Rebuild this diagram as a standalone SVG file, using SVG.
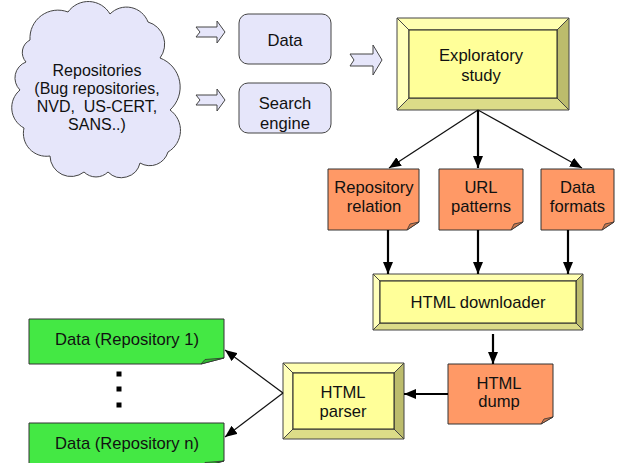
<svg xmlns="http://www.w3.org/2000/svg" width="618" height="463" viewBox="0 0 618 463">
<style>
text{font-family:"Liberation Sans",Arial,sans-serif;font-size:16.6px;fill:#111;text-anchor:middle}
.cl{font-size:16px}
.lav{fill:#e6e6fa;stroke:#444;stroke-width:1}
.org{fill:#ff9966;stroke:#333;stroke-width:1}
.orgf{fill:#cc7a50;stroke:#333;stroke-width:0.8}
.grn{fill:#44e844;stroke:#333;stroke-width:1}
.grnf{fill:#2fb82f;stroke:#333;stroke-width:0.8}
.bc{fill:#ffff99;stroke:#222;stroke-width:1}
.bt{fill:#ffffb0;stroke:#444;stroke-width:1}
.bl{fill:#ffffbb;stroke:#444;stroke-width:1}
.br{fill:#bcbc6c;stroke:#444;stroke-width:1}
.bb{fill:#dcdc88;stroke:#444;stroke-width:1}
.thin{stroke:#111;stroke-width:1.3;fill:none}
.thick{stroke:#000;stroke-width:2.2;fill:none}
</style>
<defs>
<marker id="ah" viewBox="0 0 12 10" refX="12" refY="5" markerWidth="12" markerHeight="10" markerUnits="userSpaceOnUse" orient="auto">
<path d="M0,0 L12,5 L0,10 z" fill="#000"/>
</marker>
</defs>

<g id="repositories">
<path class="lav" d="M30,40 A28,28 0 0 1 68,12 A25,25 0 0 1 110,14 A23,23 0 0 1 148,22 A23,23 0 0 1 160,58 A31,31 0 0 1 170,110 A25,25 0 0 1 168,152 A19,19 0 0 1 140,163 A19,19 0 0 1 108,172 A17,17 0 0 1 84,172 A21,21 0 0 1 50,156 A23,23 0 0 1 24,128 A23,23 0 0 1 20,90 A17,17 0 0 1 26,62 A14,14 0 0 1 30,40 z"/>
<text class="cl" x="97" y="75.5">Repositories</text>
<text class="cl" x="97" y="93.5">(Bug repositories,</text>
<text class="cl" x="97" y="111.5">NVD,&#160; US-CERT,</text>
<text class="cl" x="97" y="129.5">SANS..)</text>
</g>

<g id="block-arrows">
<polygon class="lav" points="196,27 217,27 217,21 225,32 217,43 217,37 196,37 200,32"/>
<polygon class="lav" points="196,95 217,95 217,89 225,100 217,111 217,105 196,105 200,100"/>
<polygon class="lav" points="350,54 373,54 373,45 382,60 373,75 373,66 350,66 354,60"/>
</g>

<g id="data">
<rect class="lav" x="239" y="14" width="92" height="50" rx="9"/>
<text x="285" y="45.5">Data</text>
</g>

<g id="search-engine">
<rect class="lav" x="239" y="83" width="92" height="50" rx="9"/>
<text x="285" y="108.5">Search</text>
<text x="285" y="129">engine</text>
</g>

<g id="exploratory-study">
<polygon class="bt" points="397,18 569,18 557,30 409,30"/>
<polygon class="bl" points="397,18 409,30 409,98 397,110"/>
<polygon class="br" points="569,18 569,110 557,98 557,30"/>
<polygon class="bb" points="397,110 409,98 557,98 569,110"/>
<rect class="bc" x="409" y="30" width="148" height="68"/>
<text x="481" y="61">Exploratory</text>
<text x="481" y="81">study</text>
</g>

<g id="repository-relation">
<path class="org" d="M328,169 H419 V222 L407,230 H328 z"/>
<path class="orgf" d="M407,230 L410,224 L419,222 z"/>
<text x="374" y="193">Repository</text>
<text x="374" y="212">relation</text>
</g>

<g id="url-patterns">
<path class="org" d="M439,169 H523 V222 L511,230 H439 z"/>
<path class="orgf" d="M511,230 L514,224 L523,222 z"/>
<text x="481" y="193">URL</text>
<text x="481" y="212">patterns</text>
</g>

<g id="data-formats">
<path class="org" d="M541,169 H614 V222 L602,230 H541 z"/>
<path class="orgf" d="M602,230 L605,224 L614,222 z"/>
<text x="577.5" y="193">Data</text>
<text x="577.5" y="212">formats</text>
</g>

<g id="html-downloader">
<polygon class="bt" points="373,274 583,274 576,281 380,281"/>
<polygon class="bl" points="373,274 380,281 380,323 373,330"/>
<polygon class="br" points="583,274 583,330 576,323 576,281"/>
<polygon class="bb" points="373,330 380,323 576,323 583,330"/>
<rect class="bc" x="380" y="281" width="196" height="42"/>
<text x="478" y="307.5">HTML downloader</text>
</g>

<g id="html-dump">
<path class="org" d="M448,364 H553 V417 L541,424 H448 z"/>
<path class="orgf" d="M541,424 L544,419 L553,417 z"/>
<text x="499" y="388.5">HTML</text>
<text x="499" y="406.5">dump</text>
</g>

<g id="html-parser">
<polygon class="bt" points="283,363 404,363 394,373 293,373"/>
<polygon class="bl" points="283,363 293,373 293,429 283,439"/>
<polygon class="br" points="404,363 404,439 394,429 394,373"/>
<polygon class="bb" points="283,439 293,429 394,429 404,439"/>
<rect class="bc" x="293" y="373" width="101" height="56"/>
<text x="343" y="397.5">HTML</text>
<text x="343" y="416.5">parser</text>
</g>

<g id="data-repository-1">
<path class="grn" d="M29,319 H224 V358 L201,364 H29 z"/>
<path class="grnf" d="M201,364 L205,359.5 L224,358 z"/>
<text x="127" y="345">Data (Repository 1)</text>
</g>

<g id="ellipsis">
<rect x="116.5" y="371.5" width="5" height="5" fill="#000"/>
<rect x="116.5" y="386.5" width="5" height="5" fill="#000"/>
<rect x="116.5" y="402.5" width="5" height="5" fill="#000"/>
</g>

<g id="data-repository-n">
<path class="grn" d="M29,423 H224 V461 L201,467 H29 z"/>
<path class="grnf" d="M201,467 L205,462.5 L224,461 z"/>
<text x="127" y="449">Data (Repository n)</text>
</g>

<g id="connectors">
<line class="thin" x1="478" y1="110" x2="389" y2="168" marker-end="url(#ah)"/>
<line class="thick" x1="478" y1="110" x2="478" y2="168" marker-end="url(#ah)"/>
<line class="thin" x1="478" y1="110" x2="582" y2="168" marker-end="url(#ah)"/>
<line class="thick" x1="388" y1="230" x2="388" y2="274" marker-end="url(#ah)"/>
<line class="thick" x1="478" y1="230" x2="478" y2="274" marker-end="url(#ah)"/>
<line class="thick" x1="568" y1="230" x2="568" y2="274" marker-end="url(#ah)"/>
<line class="thick" x1="493" y1="334" x2="493" y2="364" marker-end="url(#ah)"/>
<line class="thick" x1="448" y1="394" x2="404" y2="394" marker-end="url(#ah)"/>
<line class="thin" x1="283" y1="393" x2="225" y2="350" marker-end="url(#ah)"/>
<line class="thin" x1="283" y1="393" x2="225" y2="437" marker-end="url(#ah)"/>
</g>
</svg>
